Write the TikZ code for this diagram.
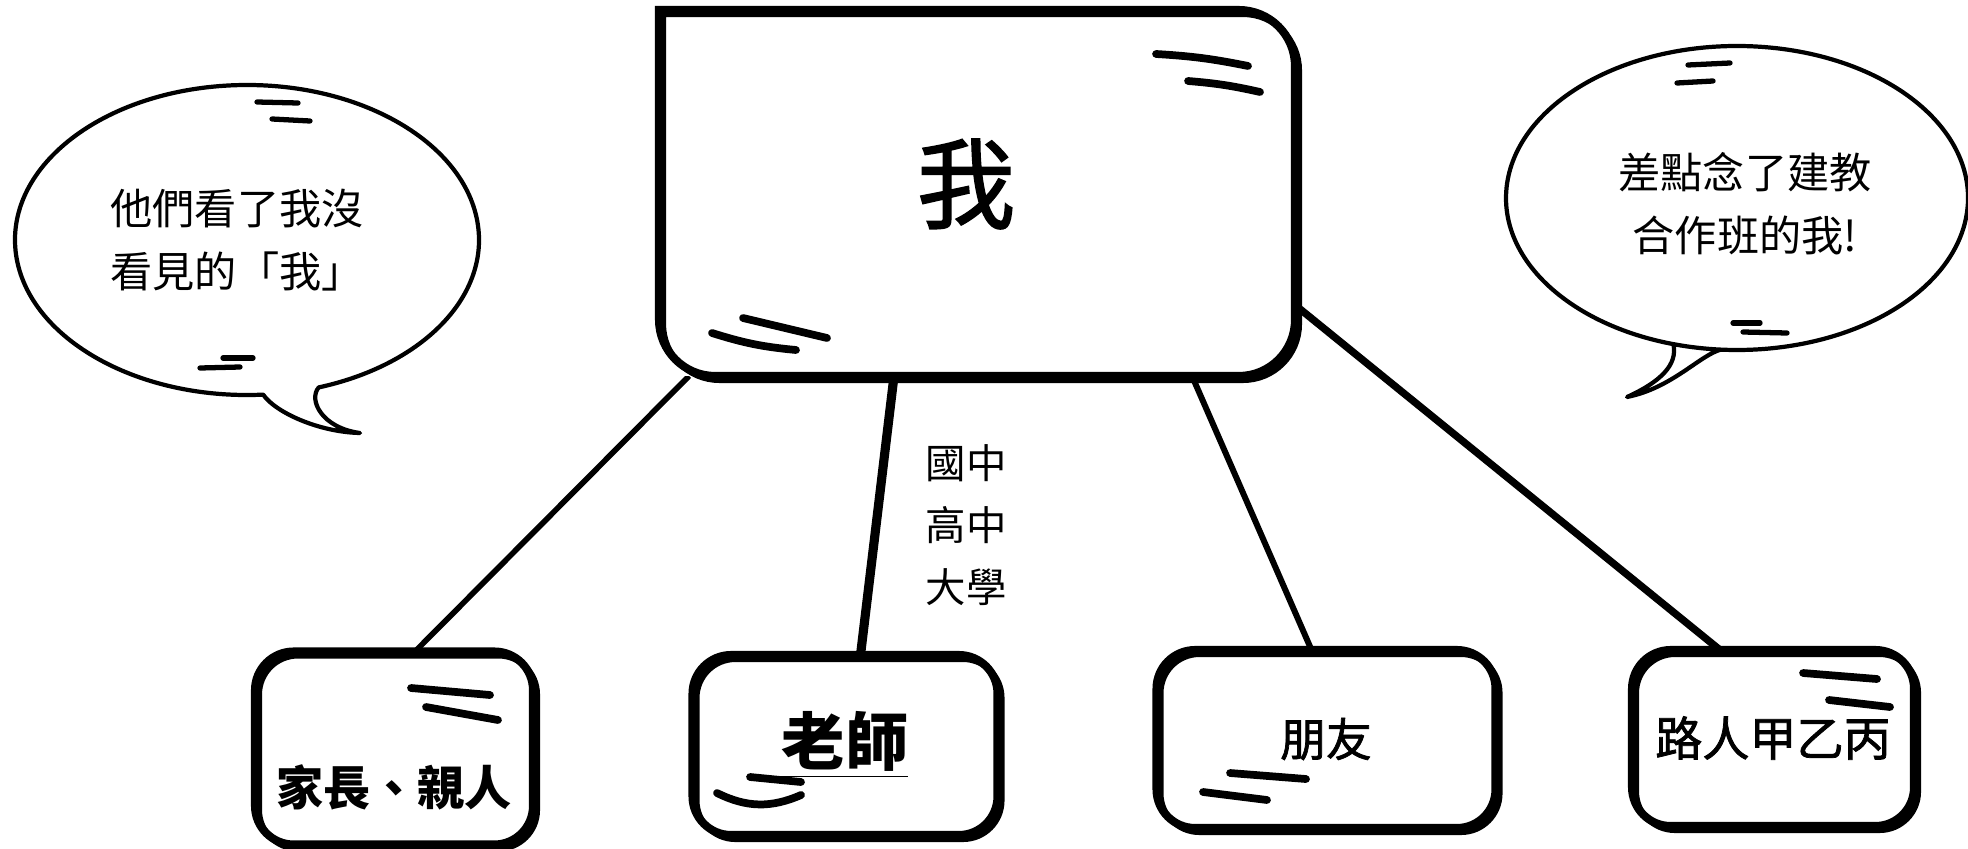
\documentclass[tikz,border=0pt]{standalone}
\usepackage{fontspec}
\newfontfamily\cjk{Noto Sans CJK TC}
\newfontfamily\cjkmid{Noto Sans CJK TC}[FakeBold=1.6]
\usetikzlibrary{backgrounds}

\begin{document}
\begin{tikzpicture}[x=0.1mm, y=-0.1mm,
    outline/.style={line width=2.3pt, postaction={draw, line width=1.6pt, transform canvas={shift={(1.2pt,-1.2pt)}}}},
    card/.style={draw, fill=white, outline, rounded corners=11pt, inner sep=0pt, outer sep=0pt},
    scribble/.style={line width=2.2pt, line cap=round},
    thin scribble/.style={line width=1.5pt, line cap=round},
    bubble/.style={draw, line width=1.2pt, line join=round},
    wire/.style={line width=#1}]
  \useasboundingbox (0,0) rectangle (1968,848);

  \node[fill=white, minimum width=6.36cm, minimum height=3.66cm, inner sep=0pt, outer sep=0pt] (me) at (977,193) {};
  \draw[outline] (me.west) -- (me.north west) [rounded corners=16pt] -- (me.north east)
      -- (me.south east) -- (me.south west) -- cycle;
  \node[font=\cjkmid\fontsize{28}{32}\selectfont] (metext) at (966,184) {我};
  \node[card, minimum width=2.78cm, minimum height=1.93cm] (family) at (394,748) {};
  \node[font=\cjk\bfseries\fontsize{13.4}{16}\selectfont] (familytext) at (394,787) {家長、親人};
  \node[card, minimum width=3.05cm, minimum height=1.80cm,
        font=\cjk\bfseries\fontsize{18}{22}\selectfont] (teacher) at (845,745) {\underline{老師}};
  \node[card, minimum width=3.39cm, minimum height=1.78cm,
        font=\cjkmid\fontsize{13}{16}\selectfont] (friend) at (1326,739) {朋友};
  \node[card, minimum width=2.82cm, minimum height=1.76cm,
        font=\cjkmid\fontsize{13.4}{16}\selectfont] (stranger) at (1773,738) {路人甲乙丙};
  \node[align=center, font=\cjk\fontsize{11.5}{17.6}\selectfont] (school) at (966,525) {國中\\高中\\大學};

  \begin{scope}[on background layer]
    \draw[wire=1.6pt] ([shift={(30,0)}]me.south west) -- ([shift={(160,0)}]family.north west);
    \draw[wire=2.6pt] ([shift={(235,0)}]me.south west) -- ([shift={(168,0)}]teacher.north west);
    \draw[wire=1.7pt] ([shift={(533,0)}]me.south west) -- ([shift={(155,0)}]friend.north west);
    \draw[wire=2.1pt] ([shift={(0,-71)}]me.south east) -- ([shift={(88,0)}]stranger.north west);
  \end{scope}

  \draw[scribble] (1156,54) to[bend left=4] (1248,66);
  \draw[scribble] (1188,81) to[bend left=4] (1260,92);
  \draw[scribble] (743,318) -- (827,338);
  \draw[scribble] (712,333) to[bend right=6] (796,350);
  \draw[scribble] (411,688) -- (490,695);
  \draw[scribble] (426,707) -- (498,720);
  \draw[scribble] (750,777) -- (801,782);
  \draw[scribble] (717,793) to[bend right=25] (801,795);
  \draw[scribble] (1230,773) -- (1306,779);
  \draw[scribble] (1203,792) -- (1267,800);
  \draw[scribble] (1803,673) -- (1877,679);
  \draw[scribble] (1829,700) -- (1890,707);

  \node[align=center, font=\cjk\fontsize{12}{18}\selectfont] (leftsay) at (237,240) {他們看了我沒\\看見的「我」};
  \draw[bubble] (247,240) ++(86:232 and 155) arc[start angle=86, end angle=432, x radius=232, y radius=155]
      .. controls (308,400) and (322,428) .. (360,433)
      .. controls (318,432) and (275,412) .. cycle;
  \draw[thin scribble] (257,102) -- (298,103);
  \draw[thin scribble] (272,119) -- (310,121);
  \draw[thin scribble] (223,358) -- (253,358);
  \draw[thin scribble] (200,368) -- (240,367);

  \node[align=center, font=\cjk\fontsize{12}{18}\selectfont] (rightsay) at (1745,204) {差點念了建教\\合作班的我!};
  \draw[bubble] (1737,198) ++(94:231 and 152) arc[start angle=94, end angle=466, x radius=231, y radius=152]
      .. controls (1678,365) and (1660,382) .. (1627,397)
      .. controls (1672,388) and (1700,355) .. cycle;
  \draw[thin scribble] (1688,65) -- (1730,63);
  \draw[thin scribble] (1677,83) -- (1713,81);
  \draw[thin scribble] (1733,323) -- (1760,323);
  \draw[thin scribble] (1743,332) -- (1787,333);
\end{tikzpicture}
\end{document}
